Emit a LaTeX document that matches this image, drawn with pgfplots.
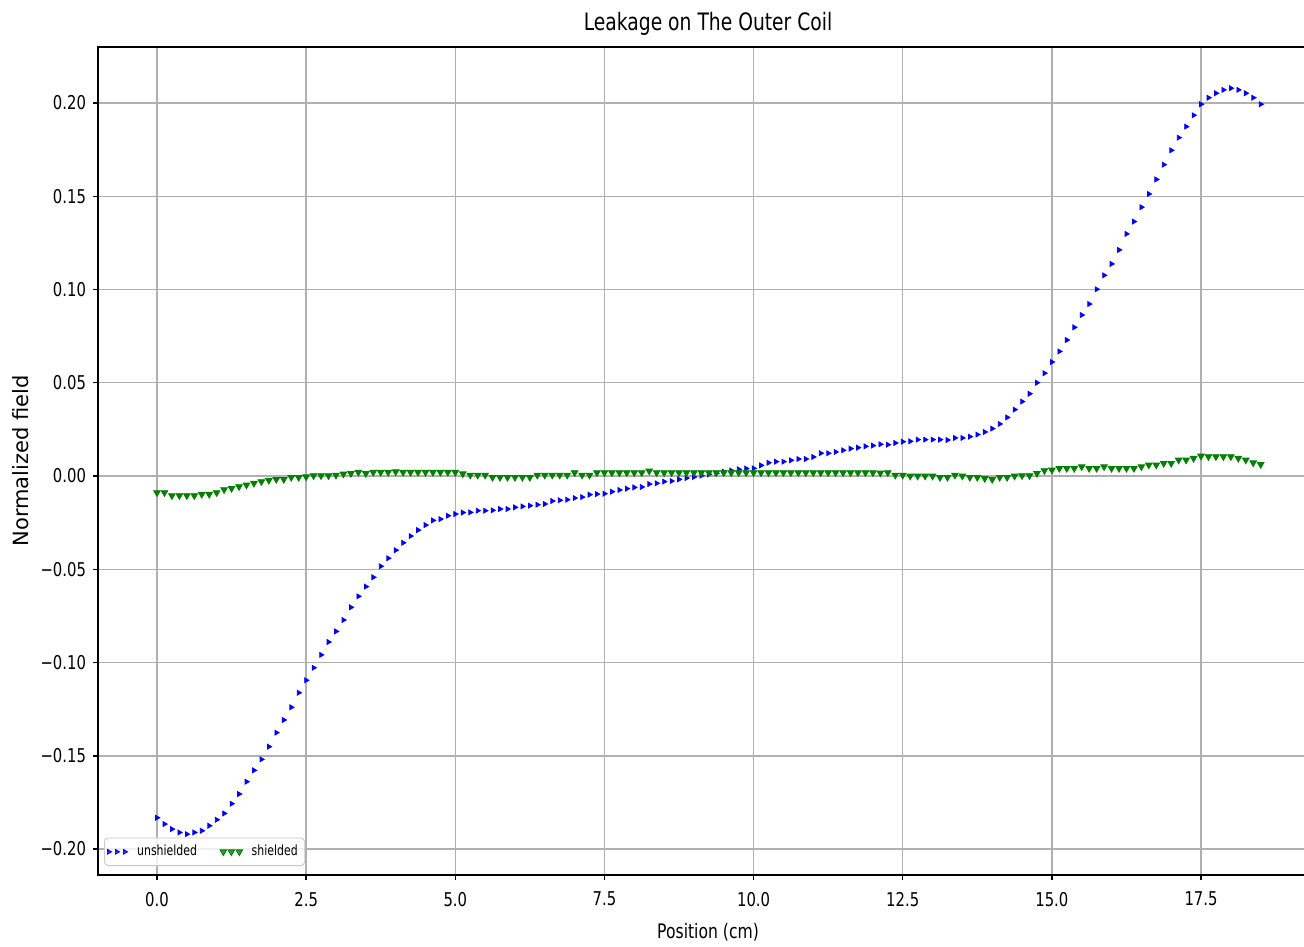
\documentclass[border=0pt]{standalone}
\usepackage{fontspec}
\setmainfont{DejaVu Sans}[FakeStretch=0.78]
\newfontfamily\widefont{DejaVu Sans}
\usepackage{pgfplots}
\usepackage{pgfplotstable}
\pgfplotsset{compat=1.18}

\definecolor{gridc}{RGB}{176,176,176}
\definecolor{mplgreen}{RGB}{0,128,0}

% Field along the outer coil, unshielded configuration
\pgfplotstableread{
x y
0.000 -0.1832
0.125 -0.1866
0.250 -0.1893
0.375 -0.1911
0.500 -0.1920
0.625 -0.1911
0.750 -0.1902
0.875 -0.1875
1.000 -0.1843
1.125 -0.1809
1.250 -0.1757
1.375 -0.1705
1.500 -0.1639
1.625 -0.1578
1.750 -0.1519
1.875 -0.1451
2.000 -0.1376
2.125 -0.1308
2.250 -0.1240
2.375 -0.1162
2.500 -0.1095
2.625 -0.1028
2.750 -0.0959
2.875 -0.0890
3.000 -0.0833
3.125 -0.0772
3.250 -0.0704
3.375 -0.0645
3.500 -0.0593
3.625 -0.0543
3.750 -0.0484
3.875 -0.0441
4.000 -0.0398
4.125 -0.0358
4.250 -0.0322
4.375 -0.0290
4.500 -0.0263
4.625 -0.0238
4.750 -0.0231
4.875 -0.0213
5.000 -0.0204
5.125 -0.0196
5.250 -0.0195
5.375 -0.0186
5.500 -0.0186
5.625 -0.0184
5.750 -0.0177
5.875 -0.0177
6.000 -0.0168
6.125 -0.0163
6.250 -0.0159
6.375 -0.0154
6.500 -0.0150
6.625 -0.0134
6.750 -0.0130
6.875 -0.0127
7.000 -0.0118
7.125 -0.0113
7.250 -0.0100
7.375 -0.0097
7.500 -0.0095
7.625 -0.0084
7.750 -0.0075
7.875 -0.0068
8.000 -0.0061
8.125 -0.0059
8.250 -0.0043
8.375 -0.0039
8.500 -0.0030
8.625 -0.0027
8.750 -0.0018
8.875 -0.0011
9.000 -0.0005
9.125 0.0002
9.250 0.0009
9.375 0.0014
9.500 0.0023
9.625 0.0029
9.750 0.0036
9.875 0.0040
10.000 0.0041
10.125 0.0057
10.250 0.0071
10.375 0.0077
10.500 0.0077
10.625 0.0084
10.750 0.0091
10.875 0.0091
11.000 0.0102
11.125 0.0122
11.250 0.0122
11.375 0.0129
11.500 0.0138
11.625 0.0147
11.750 0.0152
11.875 0.0159
12.000 0.0163
12.125 0.0170
12.250 0.0168
12.375 0.0177
12.500 0.0184
12.625 0.0186
12.750 0.0195
12.875 0.0195
13.000 0.0195
13.125 0.0195
13.250 0.0193
13.375 0.0204
13.500 0.0204
13.625 0.0211
13.750 0.0222
13.875 0.0236
14.000 0.0254
14.125 0.0279
14.250 0.0314
14.375 0.0356
14.500 0.0399
14.625 0.0441
14.750 0.0500
14.875 0.0551
15.000 0.0611
15.125 0.0668
15.250 0.0729
15.375 0.0797
15.500 0.0863
15.625 0.0922
15.750 0.1001
15.875 0.1076
16.000 0.1137
16.125 0.1212
16.250 0.1298
16.375 0.1364
16.500 0.1441
16.625 0.1512
16.750 0.1590
16.875 0.1669
17.000 0.1746
17.125 0.1814
17.250 0.1873
17.375 0.1934
17.500 0.1993
17.625 0.2028
17.750 0.2052
17.875 0.2070
18.000 0.2079
18.125 0.2070
18.250 0.2052
18.375 0.2028
18.500 0.1993
}\unshielded

% Same positions with the shield in place
\pgfplotstableread{
x y
0.000 -0.0089
0.125 -0.0089
0.250 -0.0105
0.375 -0.0105
0.500 -0.0105
0.625 -0.0105
0.750 -0.0098
0.875 -0.0098
1.000 -0.0089
1.125 -0.0073
1.250 -0.0066
1.375 -0.0057
1.500 -0.0048
1.625 -0.0039
1.750 -0.0030
1.875 -0.0023
2.000 -0.0018
2.125 -0.0018
2.250 -0.0007
2.375 -0.0007
2.500 -0.0004
2.625 0.0002
2.750 0.0002
2.875 0.0002
3.000 0.0005
3.125 0.0011
3.250 0.0014
3.375 0.0020
3.500 0.0014
3.625 0.0020
3.750 0.0020
3.875 0.0020
4.000 0.0023
4.125 0.0020
4.250 0.0020
4.375 0.0020
4.500 0.0020
4.625 0.0020
4.750 0.0020
4.875 0.0020
5.000 0.0020
5.125 0.0012
5.250 0.0005
5.375 0.0005
5.500 0.0005
5.625 -0.0007
5.750 -0.0007
5.875 -0.0007
6.000 -0.0007
6.125 -0.0007
6.250 -0.0007
6.375 0.0005
6.500 0.0005
6.625 0.0005
6.750 0.0005
6.875 0.0005
7.000 0.0018
7.125 0.0005
7.250 0.0005
7.375 0.0018
7.500 0.0018
7.625 0.0018
7.750 0.0018
7.875 0.0018
8.000 0.0018
8.125 0.0018
8.250 0.0027
8.375 0.0018
8.500 0.0018
8.625 0.0018
8.750 0.0018
8.875 0.0018
9.000 0.0018
9.125 0.0018
9.250 0.0018
9.375 0.0018
9.500 0.0018
9.625 0.0018
9.750 0.0018
9.875 0.0018
10.000 0.0018
10.125 0.0018
10.250 0.0018
10.375 0.0018
10.500 0.0018
10.625 0.0018
10.750 0.0018
10.875 0.0018
11.000 0.0018
11.125 0.0018
11.250 0.0018
11.375 0.0018
11.500 0.0018
11.625 0.0018
11.750 0.0018
11.875 0.0018
12.000 0.0018
12.125 0.0016
12.250 0.0018
12.375 0.0005
12.500 0.0005
12.625 0.0000
12.750 0.0000
12.875 0.0000
13.000 0.0000
13.125 -0.0007
13.250 -0.0007
13.375 0.0005
13.500 0.0000
13.625 -0.0007
13.750 -0.0007
13.875 -0.0013
14.000 -0.0018
14.125 -0.0007
14.250 -0.0007
14.375 0.0000
14.500 0.0002
14.625 0.0002
14.750 0.0014
14.875 0.0029
15.000 0.0032
15.125 0.0041
15.250 0.0041
15.375 0.0041
15.500 0.0050
15.625 0.0041
15.750 0.0041
15.875 0.0050
16.000 0.0041
16.125 0.0041
16.250 0.0041
16.375 0.0041
16.500 0.0050
16.625 0.0059
16.750 0.0059
16.875 0.0068
17.000 0.0068
17.125 0.0086
17.250 0.0086
17.375 0.0095
17.500 0.0107
17.625 0.0104
17.750 0.0104
17.875 0.0104
18.000 0.0104
18.125 0.0095
18.250 0.0086
18.375 0.0071
18.500 0.0062
}\shielded

\begin{document}
\begin{tikzpicture}
\begin{axis}[
  name=ax,
  scale only axis,
  width=604pt, height=414pt,
  xmin=-0.989, xmax=19.26,
  ymin=-0.2139, ymax=0.2300,
  xtick={0,2.5,5,7.5,10,12.5,15,17.5},
  xticklabels={0.0,2.5,5.0,7.5,10.0,12.5,15.0,17.5},
  ytick={-0.2,-0.15,-0.1,-0.05,0,0.05,0.1,0.15,0.2},
  yticklabels={−0.20,−0.15,−0.10,−0.05,0.00,0.05,0.10,0.15,0.20},
  tick pos=left,
  tick align=outside,
  major tick length=2.5pt,
  tick style={black, line width=0.7pt},
  tick label style={font=\fontsize{9.5}{11}\selectfont},
  xticklabel style={yshift=-2.5pt},
  grid=major,
  grid style={color=gridc, line width=0.7pt},
  axis line style={black, line width=0.8pt},
  title={Leakage on The Outer Coil},
  title style={at={(axis description cs:0.505,1.0135)}, anchor=center, font=\fontsize{12}{14}\selectfont},
  xlabel={Position (cm)},
  xlabel style={at={(axis description cs:0.505,-0.0688)}, anchor=center, font=\fontsize{10}{12}\selectfont},
  ylabel={Normalized field},
  ylabel style={at={(axis description cs:-0.0638,0.5)}, anchor=center, rotate=0, font=\widefont\fontsize{10.5}{12}\selectfont},
  legend columns=2,
  legend cell align=left,
  legend image code/.code={\draw[#1] plot coordinates {(0pt,0pt) (4pt,0pt) (8pt,0pt)}; \path (12pt,0pt);},
  legend style={at={(rel axis cs:0,0)}, anchor=south west, xshift=3pt, yshift=4.5pt,
    draw=gridc!70, rounded corners=2pt, fill=white, fill opacity=0.8, text opacity=1,
    font=\fontsize{7}{8}\selectfont, inner sep=1.5pt,
    /tikz/every even column/.append style={column sep=9.5pt}},
]
\addplot[only marks, mark=triangle*, color=blue, mark size=1.4pt, mark options={rotate=-90}] table[x=x, y=y] {\unshielded};
\addlegendentry{unshielded}
\addplot[only marks, mark=triangle*, color=mplgreen, mark size=1.9pt, mark options={rotate=180}] table[x=x, y=y] {\shielded};
\addlegendentry{shielded}
\end{axis}
\pgfresetboundingbox
\path[use as bounding box] (ax.south west) ++(-49pt,-35.5pt) rectangle ++(652pt,473pt);
\end{tikzpicture}
\end{document}
